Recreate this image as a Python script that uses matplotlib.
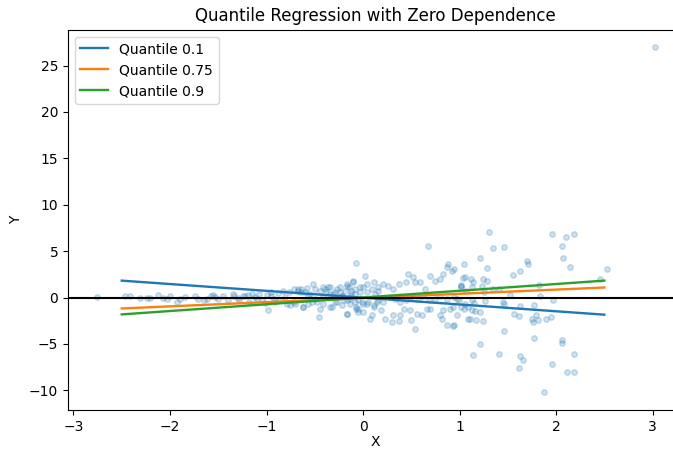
import numpy as np
import matplotlib
matplotlib.use("Agg")
import matplotlib.pyplot as plt

# Scatter data
x_left = [-2.76, -2.47, -2.41, -2.31, -2.24, -2.21, -2.12, -2.07, -2.03, -2.0, -1.93, -1.90, -1.84,
          -1.74, -1.71, -1.65, -1.62, -1.57, -1.53]
y_left = [0.03, 0.14, 0.21, -0.03, -0.03, -0.03, 0.32, -0.03, -0.14, 0.14, -0.5, -0.14, 0.03,
          0.21, -0.14, -0.32, -0.14, 0.21, 0.03]

x_midleft = [-1.55, -1.50, -1.45, -1.40, -1.34, -1.29, -1.24, -1.19, -1.15, -1.12, -1.08, -1.05, -0.98,
             -0.95, -0.91, -0.86, -0.81, -0.76, -0.70, -0.67, -0.64, -0.62, -0.58, -0.57, -0.53, -0.52,
             -0.50, -0.46, -0.45, -0.41, -0.39, -0.36, -0.34, -0.32, -0.29, -0.27, -0.24, -0.22, -0.20,
             -0.17, -0.17, -0.14, -0.12, -0.10, -0.08, -0.07, -0.05]
y_midleft = [0.29, -0.14, 0.21, -0.25, 0.21, -0.32, 0.11, 0.29, 0.39, 0.03, 0.39, -0.32, -1.32,
             0.21, -0.5, -0.32, 0.03, -0.86, -0.68, 0.93, 0.57, -1.04, 1.04, 0.21, -0.5, 1.47,
             -0.14, -2.11, -1.21, 0.03, 0.93, 1.11, 0.39, -1.04, 0.57, -0.5, 1.11, 0.21, -0.32,
             1.29, -1.75, 0.03, 0.75, 1.75, -0.5, 3.68, -1.21]

x_dense = [-0.83, -0.77, -0.72, -0.67, -0.64, -0.60, -0.55, -0.50, -0.45, -0.41, -0.38, -0.34, -0.31,
           -0.27, -0.24, -0.19, -0.15, -0.12, -0.08, -0.03, 0.0, 0.04, 0.09, 0.12, 0.16,
           -0.79, -0.72, -0.62, -0.57, -0.48, -0.41, -0.34, -0.29, -0.22, -0.13, -0.07, -0.01, 0.04,
           0.11, 0.14, -1.30, -1.22, -1.10, -1.00, -0.92, -0.88, -1.35, -1.18, -1.02, -0.95]
y_dense = [0.75, 0.57, 0.93, 0.75, 0.93, 0.57, 0.39, 0.93, 0.75, 1.11, 0.57, 1.18, 0.39,
           0.93, 0.57, 0.75, 1.11, 0.39, 0.93, 0.57, 1.11, 0.57, 0.93, 0.39, 0.75,
           -0.68, -0.5, -1.04, -0.68, -0.5, -0.68, -1.04, -0.5, -0.86, -0.68, -1.04, -0.5, -0.68,
           -1.04, -0.5, -0.05, 0.12, -0.15, 0.25, -0.2, 0.45, 0.35, -0.45, -0.6, 0.6]

x_center = [0.67, 0.02, -0.17, -0.10, -0.03, 0.04, 0.11, 0.16, 0.21, 0.26, 0.31, 0.37, 0.44, 0.47,
            0.52, 0.54, 0.59, 0.64, 0.69, 0.75, 0.80, 0.83, 0.87, 0.88, 0.92, 1.01, 1.06, 1.07,
            -0.22, -0.17, -0.13, -0.08, -0.05, 0.0, 0.05, 0.11, 0.16, 0.21, 0.28, 0.33, 0.38, 0.45,
            0.50, 0.57, 0.62, 0.68, 0.75, 0.80, 0.87, 0.94, 0.99, 1.06, 1.09,
            -0.17, -0.07, -0.05, 0.0, 0.07, 0.09, 0.19, 0.23, 0.30, 0.31, 0.37, 0.38, 0.42, 0.49,
            0.50, 0.54, 0.56, 0.61, 0.66, 0.69, 0.80, 0.82, 0.83, 0.87, 0.90, 0.94, 0.97, 1.02, 1.09]
y_center = [5.58, 2.29, 1.47, 1.64, 1.11, 1.47, 1.64, 1.11, 1.47, 1.29, 0.93, 1.47, 1.64, 2.54,
            2.18, 1.64, 1.64, 0.93, 2.36, 1.82, 2.0, 2.54, 3.25, 3.61, 2.9, 1.29, 2.18, 0.75,
            0.21, -0.32, -0.14, 0.39, -0.32, -0.68, -0.5, -0.86, -0.32, -0.5, 0.03, -0.14, -0.5, -0.32,
            0.03, -0.14, 0.21, -0.32, -0.14, 0.21, -0.14, 0.03, -0.32, -0.68, -1.04,
            -1.82, -1.21, -1.57, -1.57, -2.36, -1.93, -1.39, -2.36, -2.65, -1.93, -2.58, -1.93, -1.21, -1.39,
            -2.47, -3.43, -1.75, -1.93, -1.29, -1.21, -1.93, -2.29, -1.39, -3.0, -1.21, -3.0, -1.93, -1.04, -2.29]

x_right = [1.30, 1.96, 2.10, 2.19, 1.35, 1.46, 2.06, 2.07, 1.21, 1.05, 0.94, 1.28, 1.70, 1.71, 2.14,
           1.63, 1.55, 1.04, 1.12, 1.14, 1.24, 1.28, 1.01, 1.02, 1.13, 1.23, 1.25, 1.35, 1.41, 1.82,
           0.97, 1.13, 1.15, 1.26, 1.45, 1.46, 1.63, 1.77, 1.97, 1.83, 1.52,
           0.93, 1.05, 1.13, 1.16, 1.21, 1.56, 1.62, 1.75, 1.79, 1.76, 1.81, 1.90, 1.95,
           1.11, 1.17, 1.24, 0.93, 1.46, 1.77, 2.06, 2.06, 1.21, 1.41, 1.14, 1.63, 1.66, 1.62,
           1.96, 2.19, 2.11, 2.19, 1.87, 2.53, 2.45, 3.03]
y_right = [7.01, 6.83, 6.54, 6.9, 5.33, 5.47, 5.5, 4.22, 4.26, 3.61, 3.08, 3.18, 3.9, 3.61, 3.33,
           2.9, 2.47, 2.11, 2.0, 1.64, 2.0, 1.82, 1.39, 1.11, 1.11, 1.29, 0.57, 0.93, 0.93, 1.39,
           -0.14, -0.32, -0.61, -0.4, -0.5, -0.68, -0.93, -0.86, -0.25, 0.21, 0.32,
           -1.04, -1.21, -1.39, -1.47, -1.57, -1.75, -2.04, -2.29, -1.93, -2.65, -2.47, -2.29, -2.11,
           -2.29, -2.4, -2.54, -3.08, -3.65, -4.33, -4.61, -4.9, -4.97, -6.04, -6.22, -6.33, -6.76, -7.55,
           -7.12, -6.04, -8.08, -8.05, -10.22, 3.04, 2.0, 27.0]

x_pts = np.array(x_left + x_midleft + x_dense + x_center + x_right)
y_pts = np.array(y_left + y_midleft + y_dense + y_center + y_right)

# Quantile regression lines (endpoints)
line_x = [-2.5, 2.5]
q_labels = ["Quantile 0.1", "Quantile 0.75", "Quantile 0.9"]
q_y = [[1.82, -1.85], [-1.18, 1.08], [-1.82, 1.82]]
q_colors = ["#1f77b4", "#ff7f0e", "#2ca02c"]

fig = plt.figure(figsize=(6.73, 4.51), dpi=100)
ax = fig.add_axes([0.101, 0.091, 0.914, 0.843])

ax.scatter(x_pts, y_pts, s=16, alpha=0.22, color="#1f77b4")
for lab, yy, c in zip(q_labels, q_y, q_colors):
    ax.plot(line_x, yy, color=c, lw=1.7, label=lab)
ax.axhline(0, color="black", lw=1.5)

ax.set_xlim(-3.057, 3.316)
ax.set_ylim(-12.12, 28.86)
ax.set_xticks([-3, -2, -1, 0, 1, 2, 3])
ax.set_yticks([-10, -5, 0, 5, 10, 15, 20, 25])
ax.spines["right"].set_visible(False)
ax.set_xlabel("X", labelpad=1)
ax.set_ylabel("Y")
ax.set_title("Quantile Regression with Zero Dependence")
ax.legend(loc="upper left")

fig.savefig("out.png", dpi=100)
